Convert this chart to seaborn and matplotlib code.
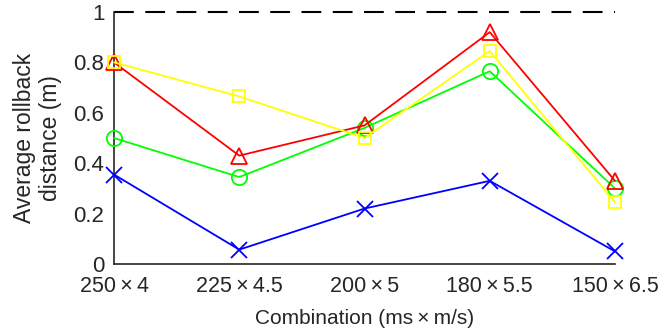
import matplotlib
matplotlib.use("Agg")
import matplotlib.pyplot as plt
import seaborn as sns
import pandas as pd

categories = ["250\u2009×\u20094", "225\u2009×\u20094.5", "200\u2009×\u20095", "180\u2009×\u20095.5", "150\u2009×\u20096.5"]
red_tri = [0.80, 0.43, 0.55, 0.92, 0.33]
green_circ = [0.50, 0.345, 0.54, 0.765, 0.30]
yellow_sq = [0.80, 0.665, 0.50, 0.845, 0.245]
blue_x = [0.355, 0.057, 0.22, 0.33, 0.05]
yticks = [0, 0.2, 0.4, 0.6, 0.8, 1]
ytick_labels = ["0", "0.2", "0.4", "0.6", "0.8", "1"]

sns.set_theme(style="white")
plt.rcParams["font.family"] = ["Liberation Sans", "DejaVu Sans"]

fig = plt.figure(figsize=(6.59, 3.35), dpi=100)
ax = fig.add_axes([114/659, 71/335, (615-114)/659, (264-12)/335])

series = [
    ("blue", blue_x, "#0000ff", "x", 11),
    ("green", green_circ, "#00ff00", "o", 11),
    ("red", red_tri, "#ff0000", "^", 12),
    ("yellow", yellow_sq, "#ffff00", "s", 9),
]
x = list(range(len(categories)))
for name, vals, col, mk, ms in series:
    df = pd.DataFrame({"x": x, "y": vals})
    sns.lineplot(data=df, x="x", y="y", ax=ax, color=col, marker=mk,
                 markersize=ms, markerfacecolor="none", markeredgecolor=col,
                 markeredgewidth=1.3, linewidth=1.3, clip_on=False, zorder=3)

ax.plot([0, 4], [1, 1], color="black", linewidth=1.5,
        linestyle=(0, (9.5, 5.5)), clip_on=False, zorder=2)

ax.set_xlim(0, 4)
ax.set_ylim(0, 1)
ax.set_xticks(x)
ax.set_xticklabels(categories)
ax.set_yticks(yticks)
ax.set_yticklabels(ytick_labels)
ax.tick_params(axis="both", direction="in", length=4, width=1.0,
               color="#262626", labelcolor="#262626")
ax.tick_params(axis="x", labelsize=15.5, pad=9)
ax.tick_params(axis="y", labelsize=16, pad=7)
for s in ["top", "right"]:
    ax.spines[s].set_visible(False)
for s in ["left", "bottom"]:
    ax.spines[s].set_color("#262626")
    ax.spines[s].set_linewidth(1.2)
ax.set_xlabel("Combination (ms\u2009×\u2009m/s)", fontsize=15, color="#262626", labelpad=8)
ax.set_ylabel("Average rollback\ndistance (m)", fontsize=16.5, color="#262626", labelpad=8)
fig.savefig("out.png", dpi=100)
